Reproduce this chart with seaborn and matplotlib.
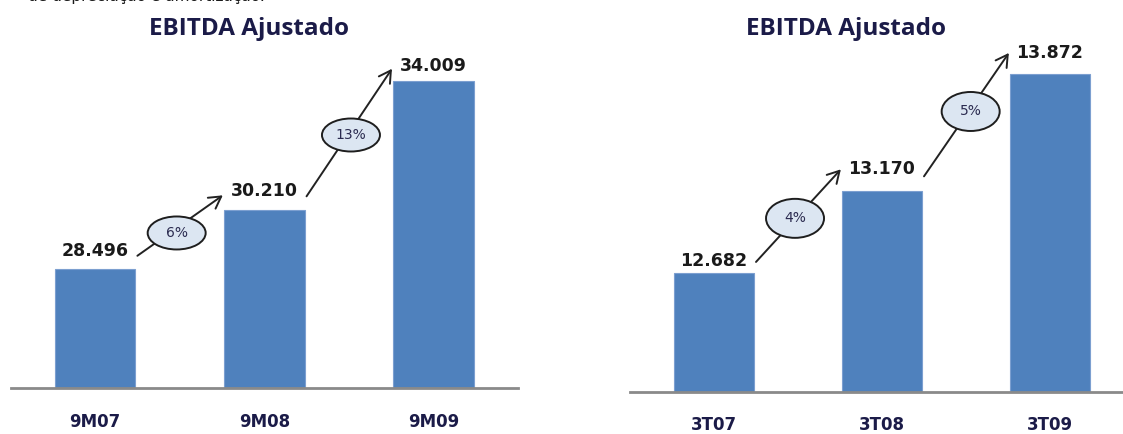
import matplotlib
matplotlib.use("Agg")
import matplotlib.pyplot as plt
from matplotlib.patches import Ellipse
import seaborn as sns

# --- data ---------------------------------------------------------------
left_categories = ["9M07", "9M08", "9M09"]
left_values = [28496, 30210, 34009]
right_categories = ["3T07", "3T08", "3T09"]
right_values = [12682, 13170, 13872]
title_text = "EBITDA Ajustado"
header_text = "de depreciação e amortização."

# --- style --------------------------------------------------------------
sns.set_theme(style="white")
plt.rcParams["font.family"] = ["DejaVu Sans"]

BAR_COLOR = "#4F81BD"
NAVY = "#1B1B48"
DARK = "#1A1A1A"
W, H = 1123, 434
DPI = 100

fig = plt.figure(figsize=(W / DPI, H / DPI), dpi=DPI)
fig.patch.set_facecolor("white")


def px_rect(left, right, top, bottom):
    """Axes rectangle from pixel edges measured from the top-left corner."""
    return [left / W, (H - bottom) / H, (right - left) / W, (bottom - top) / H]


def fmt_thousands(v):
    return f"{v:,}".replace(",", ".")


def panel(rect, cats, vals, ylim, tick_pad, label_offsets, arrow_offsets,
          bubble_pos, ell_h, title_x):
    ax = fig.add_axes(rect)
    sns.barplot(x=cats, y=vals, ax=ax, color=BAR_COLOR, saturation=1,
                width=0.476, edgecolor="#7C9FD0", linewidth=0.8)
    ax.set_xlim(-0.5, 2.5)
    ax.set_ylim(*ylim)
    ax.set_xlabel("")
    ax.set_ylabel("")
    ax.set_yticks([])
    for s in ("left", "right", "top"):
        ax.spines[s].set_visible(False)
    ax.spines["bottom"].set_color("#8A8A8A")
    ax.spines["bottom"].set_linewidth(2.0)
    ax.tick_params(axis="x", length=0, pad=tick_pad, labelsize=12,
                   labelcolor=NAVY)
    for lbl in ax.get_xticklabels():
        lbl.set_fontweight("bold")
    ax.patch.set_alpha(0)

    # value labels above the bars
    for i, v in enumerate(vals):
        ax.annotate(fmt_thousands(v), xy=(i, v),
                    xytext=(0, label_offsets[i] * 72 / DPI),
                    textcoords="offset points", ha="center", va="baseline",
                    fontsize=12.5, fontweight="bold", color=DARK,
                    annotation_clip=False)

    # growth arrows with percentage bubbles
    fig.canvas.draw()
    for i in range(len(vals) - 1):
        sx, sy = ax.transData.transform((i + 0.25, vals[i]))
        ex, ey = ax.transData.transform((i + 0.755, vals[i + 1]))
        sy += arrow_offsets[i][0]
        ey += arrow_offsets[i][1]
        ax.annotate("", xy=(ex, ey), xytext=(sx, sy), xycoords="figure pixels",
                    textcoords="figure pixels", annotation_clip=False,
                    arrowprops=dict(arrowstyle="->,head_length=0.7,head_width=0.4",
                                    color="#222222", lw=1.4,
                                    shrinkA=0, shrinkB=0))
        t, dy = bubble_pos[i]
        cx = sx + (ex - sx) * t
        cy = sy + (ey - sy) * t + dy
        growth = round((vals[i + 1] / vals[i] - 1) * 100)
        fig.add_artist(Ellipse((cx / W, cy / H), 58 / W, ell_h / H,
                               transform=fig.transFigure, facecolor="#DCE6F2",
                               edgecolor="#1E1E1E", linewidth=1.4, zorder=5))
        fig.text(cx / W, cy / H, f"{growth}%", ha="center", va="center",
                 fontsize=10, color="#2B2B50", zorder=6)

    fig.text(title_x / W, (H - 35) / H, title_text, ha="center", va="baseline",
             fontsize=17.5, fontweight="bold", color=NAVY,
             family=["Open Sans", "DejaVu Sans"])
    return ax


# left panel: 9M comparison
panel(px_rect(10.5, 518, 30, 388), left_categories, left_values,
      ylim=(25000, 35498), tick_pad=18,
      label_offsets=[13, 14, 10], arrow_offsets=[(13, 15), (14, 12)],
      bubble_pos=[(0.46, -5), (0.52, -5)],
      ell_h=33, title_x=249)

# right panel: quarter comparison
panel(px_rect(630, 1134, 36, 392), right_categories, right_values,
      ylim=(11970, 14099), tick_pad=17,
      label_offsets=[7, 17, 16], arrow_offsets=[(11, 22), (15, 21)],
      bubble_pos=[(0.46, 1), (0.55, -3)],
      ell_h=39, title_x=846)

# tail of the paragraph sitting above the charts
fig.text(28 / W, (H - 1) / H, header_text, ha="left", va="baseline",
         fontsize=11, color=DARK)

fig.savefig("out.png", dpi=DPI, facecolor="white")
